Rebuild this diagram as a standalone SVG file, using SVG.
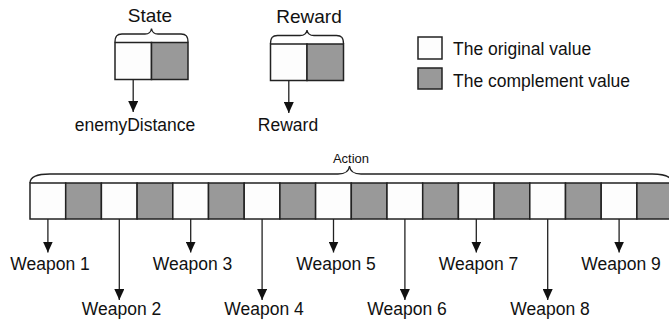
<svg xmlns="http://www.w3.org/2000/svg" width="669" height="325" viewBox="0 0 669 325">
<defs>
<style>
.w{fill:#fdfdfd;stroke:#222;stroke-width:1.5}
.g{fill:#999;stroke:#222;stroke-width:1.5}
.br{fill:none;stroke:#222;stroke-width:1.3}
.ln{stroke:#222;stroke-width:1.3;fill:none;marker-end:url(#ah)}
text{font-family:"Liberation Sans",Arial,sans-serif;fill:#111}
.t{font-size:17.5px}
.h{font-size:19px}
.s{font-size:13px}
.m{text-anchor:middle}
</style>
<marker id="ah" markerUnits="userSpaceOnUse" markerWidth="10" markerHeight="12" viewBox="0 0 10 12" refX="5" refY="11" orient="0">
<path d="M0,0 L10,0 L5,11 Z" fill="#111"/>
</marker>
</defs>
<rect width="669" height="325" fill="#fff"/>

<g id="state">
<text class="h m" x="150" y="22">State</text>
<path class="br" d="M115,42.5 C115,36 117,34 122,34 L145,34 C149,34 151,32 151.5,28.5 C152,32 154,34 158,34 L181,34 C186,34 188,36 188,42.5"/>
<rect class="w" x="115" y="42.5" width="36.5" height="37"/>
<rect class="g" x="151.5" y="42.5" width="36.5" height="37"/>
</g>

<g id="reward">
<text class="h m" x="309" y="22.5">Reward</text>
<path class="br" d="M270.5,44 C270.5,37.5 272.5,35.5 277.5,35.5 L300,35.5 C304,35.5 306.5,33.5 307,30 C307.5,33.5 310,35.5 314,35.5 L336.5,35.5 C341.5,35.5 343.5,37.5 343.5,44"/>
<rect class="w" x="270.5" y="44" width="36.5" height="36.5"/>
<rect class="g" x="307" y="44" width="36.5" height="36.5"/>
</g>

<g id="legend">
<rect class="w" x="418" y="37" width="24" height="22"/>
<text class="t" x="453" y="55">The original value</text>
<rect class="g" x="418" y="68" width="24" height="21"/>
<text class="t" x="453" y="86.5">The complement value</text>
</g>

<g id="action">
<text class="s m" x="351" y="163">Action</text>
<path class="br" d="M30,183 C30,177 36,174 50,174 L338,174 C345,174 349,171 349.5,166 C350,171 354,174 361,174 L652,174 C666,174 672,177 672,183"/>
<rect class="w" x="30" y="183" width="35.7" height="36"/>
<rect class="g" x="65.7" y="183" width="35.7" height="36"/>
<rect class="w" x="101.4" y="183" width="35.7" height="36"/>
<rect class="g" x="137.1" y="183" width="35.7" height="36"/>
<rect class="w" x="172.8" y="183" width="35.7" height="36"/>
<rect class="g" x="208.5" y="183" width="35.7" height="36"/>
<rect class="w" x="244.2" y="183" width="35.7" height="36"/>
<rect class="g" x="279.9" y="183" width="35.7" height="36"/>
<rect class="w" x="315.6" y="183" width="35.7" height="36"/>
<rect class="g" x="351.3" y="183" width="35.7" height="36"/>
<rect class="w" x="387" y="183" width="35.7" height="36"/>
<rect class="g" x="422.7" y="183" width="35.7" height="36"/>
<rect class="w" x="458.4" y="183" width="35.7" height="36"/>
<rect class="g" x="494.1" y="183" width="35.7" height="36"/>
<rect class="w" x="529.8" y="183" width="35.7" height="36"/>
<rect class="g" x="565.5" y="183" width="35.7" height="36"/>
<rect class="w" x="601.2" y="183" width="35.7" height="36"/>
<rect class="g" x="636.9" y="183" width="35.7" height="36"/>
</g>

<g id="labels">
<text class="t m" x="135" y="131">enemyDistance</text>
<text class="t m" x="288" y="131">Reward</text>
<text class="t m" x="50" y="270">Weapon 1</text>
<text class="t m" x="121.5" y="315">Weapon 2</text>
<text class="t m" x="192.5" y="270">Weapon 3</text>
<text class="t m" x="264" y="315">Weapon 4</text>
<text class="t m" x="336" y="270">Weapon 5</text>
<text class="t m" x="407" y="315">Weapon 6</text>
<text class="t m" x="478.5" y="270">Weapon 7</text>
<text class="t m" x="550" y="315">Weapon 8</text>
<text class="t m" x="621" y="270">Weapon 9</text>
</g>

<g id="connectors">
<path class="ln" d="M133.2,79.5 V112"/>
<path class="ln" d="M288.8,80.5 V113"/>
<path class="ln" d="M47.9,219 V252.5"/>
<path class="ln" d="M119.3,219 V300"/>
<path class="ln" d="M190.7,219 V252.5"/>
<path class="ln" d="M262.1,219 V300"/>
<path class="ln" d="M333.5,219 V252.5"/>
<path class="ln" d="M404.9,219 V300"/>
<path class="ln" d="M476.3,219 V252.5"/>
<path class="ln" d="M547.7,219 V300"/>
<path class="ln" d="M619.1,219 V252.5"/>
</g>
</svg>
